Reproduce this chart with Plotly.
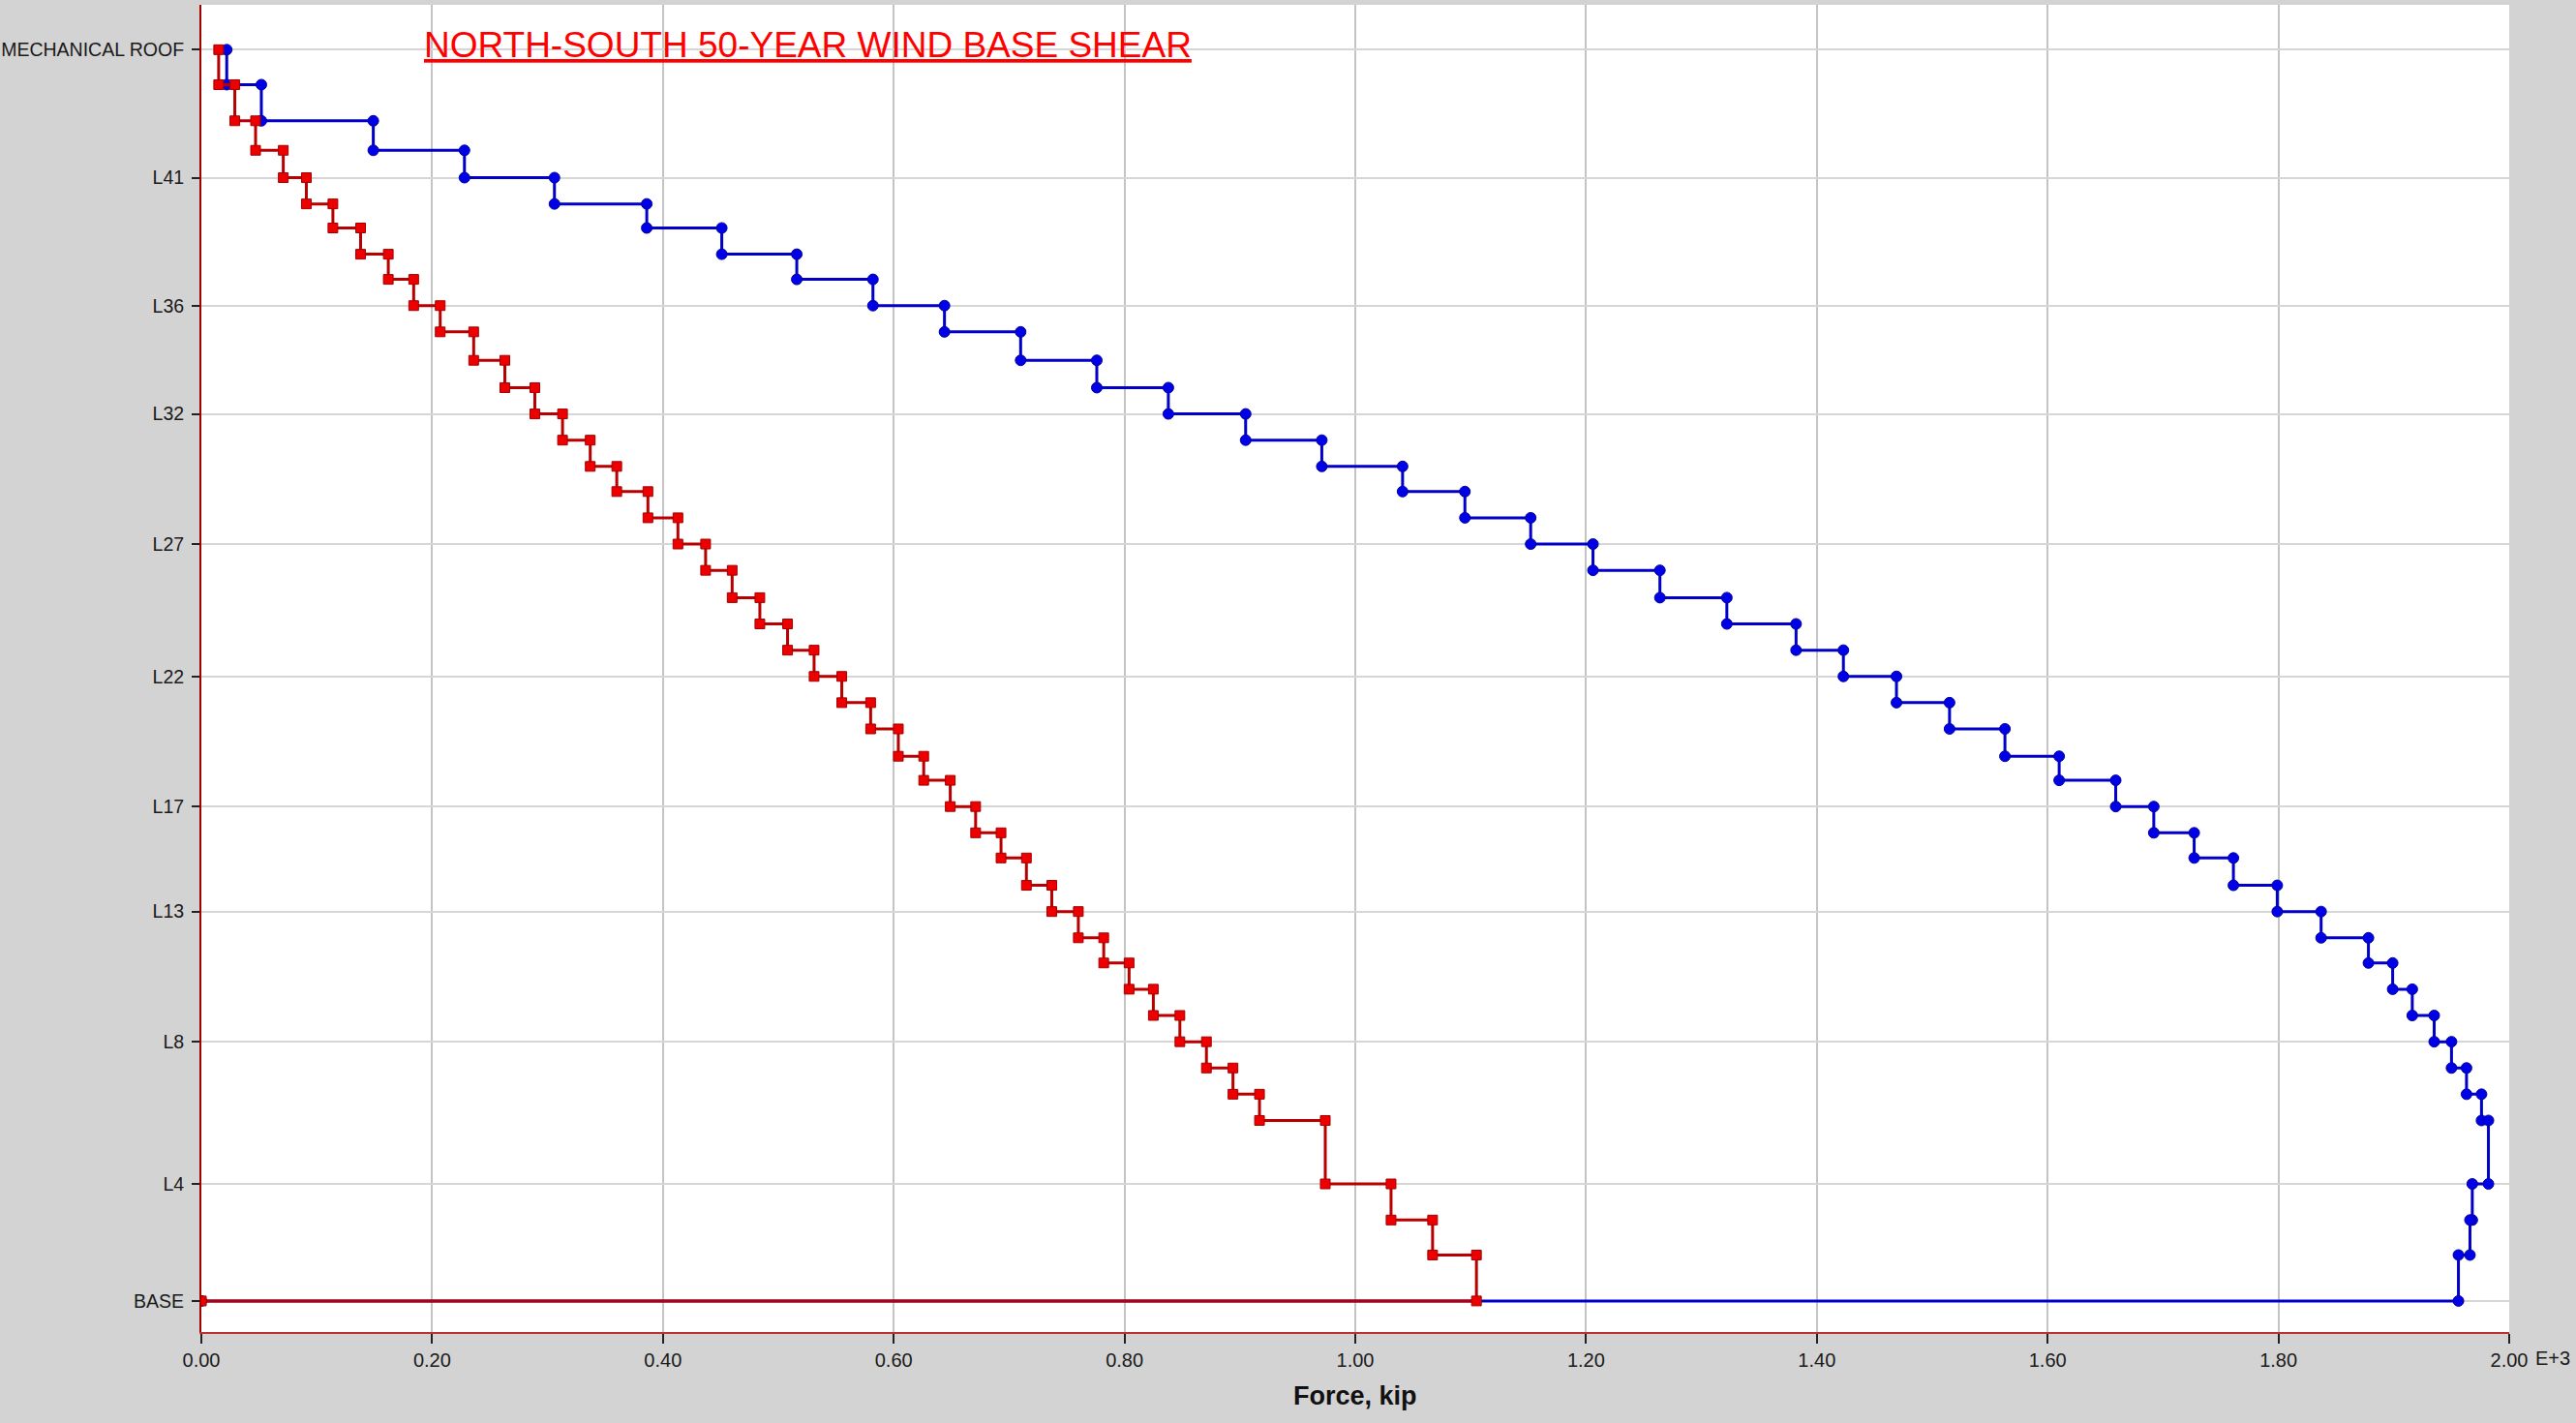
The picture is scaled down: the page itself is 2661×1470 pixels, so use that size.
import plotly.graph_objects as go

# Floor levels from the top down, with elevation above the base (ft)
levels = [
    "MECHANICAL ROOF", "L44", "L43", "L42",
    "L41", "L40", "L39", "L38", "L37", "L36", "L35", "L34", "L33", "L32",
    "L31", "L30", "L29", "L28", "L27", "L26", "L25", "L24", "L23", "L22",
    "L21", "L20", "L19", "L18", "L17", "L16", "L15", "L14", "L13", "L12",
    "L11", "L10", "L9", "L8", "L7", "L6", "L5", "L4", "L3", "L2", "BASE",
]
elevations = [
    572, 556, 539.5, 526,
    513.5, 501.5, 490.5, 478.5, 467, 455, 443, 430, 417.5, 405.5,
    393.5, 381.5, 370, 358, 346, 334, 321.5, 309.5, 297.5, 285.5,
    273.5, 261.5, 249, 238, 226, 214, 202.5, 190, 178, 166,
    154.5, 142.5, 130.5, 118.5, 106.5, 94.5, 82.5, 53.5, 37, 21, 0,
]

# Story shear just below each level (kip), one value per level above the base
shear_blue = [
    22, 52, 149, 228,
    306, 386, 451, 516, 582, 644, 710, 776, 838, 905,
    971, 1041, 1095, 1152, 1206, 1264, 1322, 1382, 1423, 1469,
    1515, 1563, 1610, 1659, 1692, 1727, 1761, 1799, 1837, 1878,
    1899, 1916, 1935, 1950, 1963, 1976, 1982, 1968, 1966, 1956,
]
shear_red = [
    15, 29, 47, 71,
    91, 114, 138, 162, 184, 207, 236, 263, 289, 313,
    337, 360, 387, 413, 437, 460, 484, 508, 531, 555,
    580, 604, 626, 649, 671, 693, 715, 737, 760, 782,
    804, 825, 848, 871, 894, 917, 974, 1031, 1067, 1105,
]

tick_levels = ["MECHANICAL ROOF", "L41", "L36", "L32", "L27", "L22",
               "L17", "L13", "L8", "L4", "BASE"]
force_ticks = [0, 200, 400, 600, 800, 1000, 1200, 1400, 1600, 1800, 2000]
force_tick_text = ["0.00", "0.20", "0.40", "0.60", "0.80", "1.00",
                   "1.20", "1.40", "1.60", "1.80", "2.00"]

FONT = "Liberation Sans, Arial, sans-serif"


def staircase(shears):
    """Shear diagram path: vertical runs through each story, steps at floors."""
    xs, ys = [], []
    for i, v in enumerate(shears):
        xs += [v, v]
        ys += [elevations[i], elevations[i + 1]]
    xs.append(0)
    ys.append(elevations[-1])
    return xs, ys


bx, by = staircase(shear_blue)
rx, ry = staircase(shear_red)

fig = go.Figure()
fig.add_trace(go.Scatter(
    x=bx, y=by, mode="lines+markers", name="Case 1",
    line=dict(color="#0000c8", width=3),
    marker=dict(symbol="circle", size=11, color="#0000e6",
                line=dict(color="#0000a0", width=1)),
))
fig.add_trace(go.Scatter(
    x=rx, y=ry, mode="lines+markers", name="Case 2",
    line=dict(color="#b80000", width=3),
    marker=dict(symbol="square", size=10, color="#ee0000",
                line=dict(color="#a00000", width=1)),
))

elev_of = dict(zip(levels, elevations))

fig.update_layout(
    width=2661, height=1470,
    margin=dict(l=208, r=69, t=5, b=94),
    paper_bgcolor="#d3d3d3",
    plot_bgcolor="#ffffff",
    showlegend=False,
    font=dict(family=FONT, size=19, color="#1a1a1a"),
    xaxis=dict(
        range=[0, 2000], automargin=False,
        tickvals=force_ticks, ticktext=force_tick_text,
        ticks="outside", ticklen=10, tickwidth=2, tickcolor="#222222",
        showgrid=True, gridcolor="#c4c4c4", gridwidth=1.5,
        zeroline=False,
        showline=True, linecolor="#c03030", linewidth=2,
        tickfont=dict(family=FONT, size=20, color="#1a1a1a"),
    ),
    yaxis=dict(
        range=[-14.2, 592.5], automargin=False,
        tickvals=[elev_of[n] for n in tick_levels], ticktext=tick_levels,
        ticks="outside", ticklen=8, tickwidth=2, tickcolor="#222222",
        ticklabelstandoff=4,
        showgrid=True, gridcolor="#d6d6d6", gridwidth=2,
        zeroline=False,
        showline=True, linecolor="#a00000", linewidth=2,
        tickfont=dict(family=FONT, size=19.5, color="#1a1a1a"),
    ),
    annotations=[
        dict(text="<u>NORTH-SOUTH 50-YEAR WIND BASE SHEAR</u>",
             xref="paper", yref="paper", x=0.0956, y=0.970,
             xanchor="left", yanchor="middle", showarrow=False,
             font=dict(family=FONT, size=37, color="#ff0000")),
        dict(text="E+3", xref="paper", yref="paper", x=1.0105, y=-0.0197,
             xanchor="left", yanchor="middle", showarrow=False,
             font=dict(family=FONT, size=20, color="#1a1a1a")),
        dict(text="<b>Force, kip</b>", xref="paper", yref="paper",
             x=0.5, y=-0.048, xanchor="center", yanchor="middle",
             showarrow=False,
             font=dict(family=FONT, size=27, color="#111111")),
    ],
)

fig.write_html("out.html")
